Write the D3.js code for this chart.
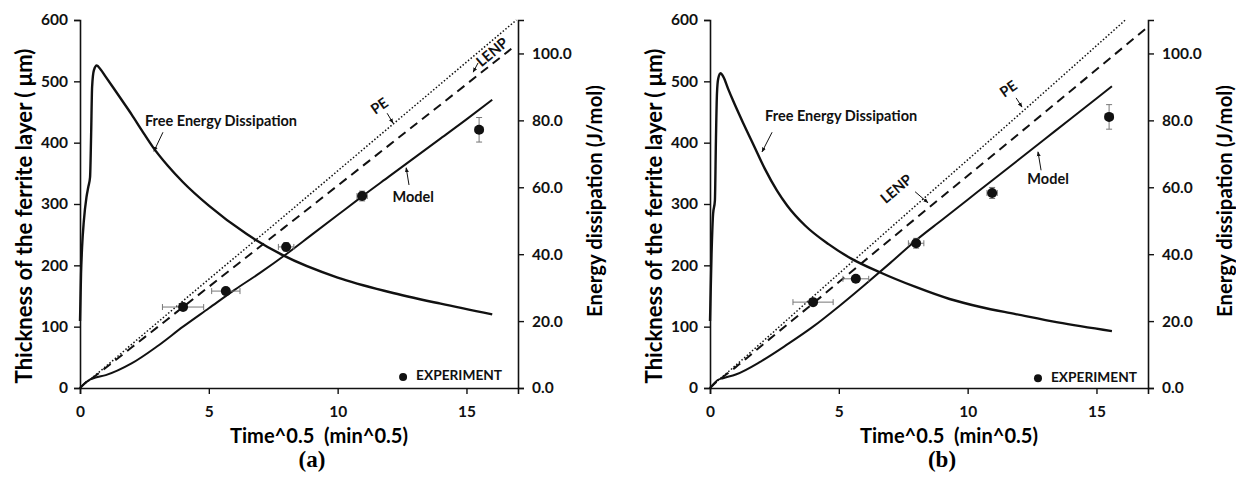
<!DOCTYPE html>
<html>
<head>
<meta charset="utf-8">
<script src="https://cdn.jsdelivr.net/npm/d3@7"></script>
<style>
body { margin: 0; background: #fff; }
text { font-family: Lato, "Open Sans", sans-serif; }
</style>
</head>
<body>
<div id="chart"></div>
<script>
// ticks
var xTicks = [0, 5, 10, 15];
var yTicksLeft = [0, 100, 200, 300, 400, 500, 600];
var yTicksRight = [0, 20, 40, 60, 80, 100];

// panel (a) series  [time^0.5, value]
var modelA = [[0,0],[0.2,8],[0.4,14],[0.6,17],[1,21],[2,40],[3,68],[4,100],[5,130],[6,160],[7,188],[8,218],[9,250],[10,282],[11,314],[12,345],[13,376],[14,407],[15,438],[16,470]];
var lenpA = [[0,0],[0.2,8],[0.4,14],[0.6,20],[1,33],[2,66],[4,132],[8,264],[12,396],[16.74,553]];
var peA = [[0,0],[0.2,8],[0.4,14],[0.6,21],[1,35],[2,71],[4,142],[8,283],[12,425],[16.94,600]];
var fedA = [[0,20],[0.04,34],[0.08,42],[0.15,50],[0.25,57],[0.32,60],[0.39,63],[0.43,75],[0.47,90],[0.54,95],[0.65,96.4],[0.8,95.2],[1,93],[1.28,89.9],[1.6,86.3],[2,81.8],[2.4,77],[2.83,72],[3.4,66.5],[4,61.5],[5,54.5],[6.47,46],[7.87,39.7],[10,33],[12,28.7],[14,25.2],[16,22]];
var expA = [[4.0,132,0.8,4],[5.66,158,0.55,4],[8.0,230,0.3,7],[10.95,313,0.2,8],[15.49,421,0.15,20]];

// panel (b) series
var modelB = [[0,0],[0.15,7],[0.3,13],[0.5,16],[1,22],[2,44],[3,71],[4,100],[5,133],[6,168],[7,204],[8,241],[9,274],[10,307],[11,340],[12,373],[13,406],[14,439],[15,472],[15.6,492]];
var lenpB = [[0,0],[0.15,6],[0.3,12],[0.5,18],[1,34],[2,69],[4,138],[8,277],[12,415],[17,589]];
var peB = [[0,0],[0.15,6],[0.3,12],[0.5,19],[1,37],[2,74],[4,149],[8,298],[12,446],[16.12,600]];
var fedB = [[0,20],[0.06,40],[0.12,52],[0.19,56],[0.23,74],[0.27,88],[0.32,92.5],[0.41,94.1],[0.52,93],[0.7,89.5],[0.89,86],[1.3,79],[1.7,72.5],[2.13,65.5],[2.6,59],[3,54.5],[3.7,48.5],[4.6,43],[5.5,38.6],[6.59,34.6],[7.98,30.2],[9.3,26.6],[10.5,24.2],[11.86,22.1],[13.5,19.6],[15.6,17]];
var expB = [[4.0,140,0.78,5],[5.66,178,0.5,5],[8.0,236,0.3,8],[10.95,318,0.2,9],[15.49,442,0.15,20]];

var W = 1236, H = 479;

var svg = d3.select("#chart").append("svg")
    .attr("width", W)
    .attr("height", H);

svg.append("defs").append("marker")
    .attr("id", "arr")
    .attr("viewBox", "0 0 10 10")
    .attr("refX", 9).attr("refY", 5)
    .attr("markerWidth", 5).attr("markerHeight", 5)
    .attr("orient", "auto")
  .append("path")
    .attr("d", "M0,1 L10,5 L0,9 z")
    .attr("fill", "#111");

// scale a text's font so it spans the width seen in the picture
function fit(t, w) {
  var l = t.node().getComputedTextLength();
  var fs = parseFloat(t.style("font-size"));
  if (l > 0) t.style("font-size", (fs * w / l).toFixed(2) + "px");
  return t;
}

function drawPanel(p) {
  var g = svg.append("g").attr("transform", "translate(" + p.left + ",0)");
  var pw = 438;

  var x = d3.scaleLinear().domain([0, 17]).range([0, pw]);
  var y = d3.scaleLinear().domain([0, 600]).range([388, 20]);
  var y2 = d3.scaleLinear().domain([0, 110]).range([388, 20]);

  // axes
  var ax = g.append("g").attr("transform", "translate(0,388)")
      .call(d3.axisBottom(x).tickValues(xTicks).tickSize(6).tickPadding(5).tickFormat(d3.format("d")));
  var ay = g.append("g")
      .call(d3.axisLeft(y).tickValues(yTicksLeft).tickSize(6).tickPadding(6).tickFormat(d3.format("d")));
  var ay2 = g.append("g").attr("transform", "translate(" + pw + ",0)")
      .call(d3.axisRight(y2).tickValues(yTicksRight).tickSize(6).tickPadding(8).tickFormat(d3.format(".1f")));
  [ax, ay, ay2].forEach(function(a) {
    a.select(".domain").attr("stroke", "#111").attr("stroke-width", 1.6);
    a.selectAll(".tick line").attr("stroke", "#111").attr("stroke-width", 1.4);
    a.selectAll(".tick text").attr("fill", "#111").style("font-size", "15.5px").style("font-weight", "bold");
  });
  ax.selectAll(".tick text").attr("dy", "1.15em");

  // axis titles
  fit(g.append("text")
      .attr("transform", "translate(-48,216) rotate(-90)")
      .attr("text-anchor", "middle")
      .style("font-size", "17px").style("font-weight", "bold")
      .text("Thickness of the ferrite layer ( μm)"), 335);
  fit(g.append("text")
      .attr("transform", "translate(" + (pw + 84) + ",201) rotate(-90)")
      .attr("text-anchor", "middle")
      .style("font-size", "17px").style("font-weight", "bold")
      .text("Energy dissipation (J/mol)"), 232);
  fit(g.append("text")
      .attr("x", pw / 2 + 20).attr("y", 443)
      .attr("text-anchor", "middle")
      .style("font-size", "17px").style("font-weight", "bold")
      .style("white-space", "pre")
      .text("Time^0.5  (min^0.5)"), 178);
  g.append("text")
      .attr("x", pw / 2 + 13).attr("y", 467)
      .attr("text-anchor", "middle")
      .style("font-family", "'Liberation Serif', 'DejaVu Serif', serif")
      .style("font-size", "23px").style("font-weight", "bold")
      .text(p.tag);

  var line = d3.line().x(function(d) { return x(d[0]); }).y(function(d) { return y(d[1]); }).curve(d3.curveMonotoneX);
  var line2 = d3.line().x(function(d) { return x(d[0]); }).y(function(d) { return y2(d[1]); }).curve(d3.curveMonotoneX);

  g.append("path").datum(p.pe).attr("d", line)
      .attr("fill", "none").attr("stroke", "#111").attr("stroke-width", 1.5).attr("stroke-dasharray", "1.5,2");
  g.append("path").datum(p.lenp).attr("d", line)
      .attr("fill", "none").attr("stroke", "#111").attr("stroke-width", 2).attr("stroke-dasharray", "9,6");
  g.append("path").datum(p.model).attr("d", line)
      .attr("fill", "none").attr("stroke", "#111").attr("stroke-width", 2);
  g.append("path").datum(p.fed).attr("d", line2)
      .attr("fill", "none").attr("stroke", "#111").attr("stroke-width", 2.4);

  // experiment with error bars
  var e = g.selectAll(".exp").data(p.exp).enter().append("g").attr("class", "exp");
  e.append("line")
      .attr("x1", function(d) { return x(d[0] - d[2]); }).attr("x2", function(d) { return x(d[0] + d[2]); })
      .attr("y1", function(d) { return y(d[1]); }).attr("y2", function(d) { return y(d[1]); })
      .attr("stroke", "#777").attr("stroke-width", 1);
  e.append("line")
      .attr("x1", function(d) { return x(d[0]); }).attr("x2", function(d) { return x(d[0]); })
      .attr("y1", function(d) { return y(d[1] - d[3]); }).attr("y2", function(d) { return y(d[1] + d[3]); })
      .attr("stroke", "#777").attr("stroke-width", 1);
  [-1, 1].forEach(function(s) {
    e.append("line")
        .attr("x1", function(d) { return x(d[0] + s * d[2]); }).attr("x2", function(d) { return x(d[0] + s * d[2]); })
        .attr("y1", function(d) { return y(d[1]) - 3; }).attr("y2", function(d) { return y(d[1]) + 3; })
        .attr("stroke", "#777").attr("stroke-width", 1);
    e.append("line")
        .attr("x1", function(d) { return x(d[0]) - 3; }).attr("x2", function(d) { return x(d[0]) + 3; })
        .attr("y1", function(d) { return y(d[1] + s * d[3]); }).attr("y2", function(d) { return y(d[1] + s * d[3]); })
        .attr("stroke", "#777").attr("stroke-width", 1);
  });
  e.append("circle")
      .attr("cx", function(d) { return x(d[0]); }).attr("cy", function(d) { return y(d[1]); })
      .attr("r", 5).attr("fill", "#111");

  // annotations
  p.notes.forEach(function(n) {
    g.append("text")
        .attr("transform", "translate(" + x(n.tx) + "," + y(n.ty) + ") rotate(" + (n.rot || 0) + ")")
        .attr("text-anchor", "middle").attr("dominant-baseline", "middle")
        .style("font-size", "14.5px").style("font-weight", "bold").attr("fill", "#111")
        .text(n.label);
    g.append("line")
        .attr("x1", x(n.a[0])).attr("y1", y(n.a[1]))
        .attr("x2", x(n.a[2])).attr("y2", y(n.a[3]))
        .attr("stroke", "#111").attr("stroke-width", 1)
        .attr("marker-end", "url(#arr)");
  });

  // legend
  g.append("circle").attr("cx", x(p.leg[0])).attr("cy", y(p.leg[1])).attr("r", 4).attr("fill", "#111");
  fit(g.append("text").attr("x", x(p.leg[0]) + 13).attr("y", y(p.leg[1]))
      .attr("dominant-baseline", "middle")
      .style("font-size", "14px").style("font-weight", "bold").attr("fill", "#111")
      .text("EXPERIMENT"), 86);
}

drawPanel({
  left: 80, tag: "(a)",
  model: modelA, lenp: lenpA, pe: peA, fed: fedA, exp: expA,
  leg: [12.54, 18],
  notes: [
    {label: "Free Energy Dissipation", tx: 5.47, ty: 434, a: [3.22, 417, 2.87, 386]},
    {label: "PE", tx: 11.65, ty: 458, rot: -35, a: [11.92, 448, 12.15, 432]},
    {label: "LENP", tx: 16.03, ty: 546, rot: -40, a: [15.45, 530, 15.26, 515]},
    {label: "Model", tx: 12.93, ty: 310, a: [12.77, 331, 12.66, 359]}
  ]
});

drawPanel({
  left: 710, tag: "(b)",
  model: modelB, lenp: lenpB, pe: peB, fed: fedB, exp: expB,
  leg: [12.73, 16],
  notes: [
    {label: "Free Energy Dissipation", tx: 5.09, ty: 442, a: [2.41, 417, 2.02, 385]},
    {label: "LENP", tx: 7.26, ty: 323, rot: -40, a: [7.96, 320, 8.46, 302]},
    {label: "PE", tx: 11.61, ty: 486, rot: -35, a: [11.88, 473, 12.11, 458]},
    {label: "Model", tx: 13.12, ty: 338, a: [12.85, 355, 12.73, 385]}
  ]
});
</script>
</body>
</html>
